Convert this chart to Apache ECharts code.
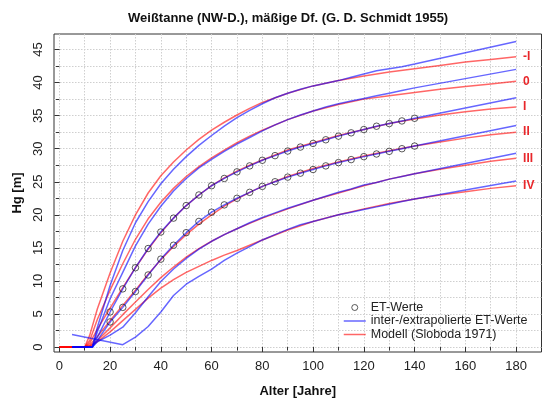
<!DOCTYPE html>
<html><head><meta charset="utf-8">
<script src="https://cdn.jsdelivr.net/npm/echarts@6/dist/echarts.min.js"></script>
<style>html,body{margin:0;padding:0;background:#fff}#c{width:543px;height:403px}</style>
</head><body><div id="c"></div>
<script>
// ---- data ----
const classLabels = ['-I', '0', 'I', 'II', 'III', 'IV'];

// ET-Werte (yield table values) for classes I and II
const etAges = [20,25,30,35,40,45,50,55,60,65,70,75,80,85,90,95,100,105,110,115,120,125,130,135,140];
const etI  = [5.3,8.8,12.0,14.9,17.4,19.5,21.4,23.0,24.4,25.5,26.5,27.4,28.25,28.95,29.65,30.25,30.8,31.35,31.9,32.4,32.9,33.4,33.8,34.2,34.6];
const etII = [3.8,6.0,8.4,10.9,13.3,15.4,17.3,19.0,20.4,21.5,22.5,23.4,24.3,25.0,25.7,26.3,26.85,27.4,27.9,28.35,28.8,29.2,29.6,30.0,30.4];

// inter-/extrapolated ET values (blue)
const blueAges = [5,13,15,20,25,30,35,40,45,50,55,60,65,70,75,80,85,90,95,100,105,110,115,120,125,130,135,140,180];
const blueMinusI = [0,0,3.0,9.3,14.6,18.8,22.0,24.7,26.9,28.8,30.5,32.0,33.4,34.7,35.8,36.8,37.7,38.4,39.0,39.5,39.9,40.3,40.8,41.3,41.8,42.1,42.4,42.8,46.2];
const blue0      = [0,0,2.3,7.3,11.3,15.3,18.6,21.3,23.6,25.5,27.1,28.4,29.6,30.7,31.7,32.7,33.6,34.4,35.1,35.7,36.3,36.8,37.2,37.6,38.0,38.4,38.8,39.2,42.0];
const blueIStart = [0,0,1.5];   const blueIEnd = 37.7;
const blueIIStart = [0,0,1.0];  const blueIIEnd = 33.5;
const blueIII    = [0,0,0.8,1.8,3.0,5.2,7.6,9.9,11.8,13.4,14.8,16.0,17.0,17.9,18.8,19.6,20.3,21.0,21.6,22.2,22.8,23.4,23.9,24.5,24.9,25.4,25.8,26.2,29.3];
const blueIVAges = [5,25,30,35,40,45,50,55,60,65,70,75,80,85,90,95,100,105,110,115,120,125,130,135,140,180];
const blueIV     = [1.9,0.35,1.5,3.1,5.3,7.8,9.5,10.7,11.8,13.1,14.2,15.2,16.2,17.0,17.8,18.5,19.0,19.5,20.0,20.4,20.8,21.2,21.6,22.0,22.4,25.1];

// model curves (red, Sloboda 1971)
const modelAges = [0,10,12,15,20,25,30,35,40,45,50,55,60,65,70,75,80,90,100,110,120,130,140,150,160,170,180];
const redMinusI = [0,0,1.8,5.8,11.2,16.0,20.0,23.3,25.9,28.0,29.8,31.4,32.8,34.0,35.1,36.1,37.0,38.4,39.5,40.3,41.0,41.6,42.1,42.6,43.1,43.5,43.9];
const red0      = [0,0,1.0,4.2,8.6,12.6,16.3,19.4,21.9,24.0,25.8,27.3,28.6,29.8,30.9,31.9,32.8,34.4,35.7,36.7,37.5,38.0,38.5,39.0,39.4,39.8,40.2];
const redI      = [0,0,0.6,2.7,5.9,9.0,12.0,14.8,17.3,19.5,21.4,23.0,24.4,25.6,26.6,27.5,28.3,29.8,30.9,32.0,32.9,33.8,34.5,35.1,35.6,36.0,36.3];
const redII     = [0,0,0.3,1.6,4.0,6.3,8.6,11.0,13.2,15.2,17.0,18.6,20.0,21.3,22.4,23.4,24.3,25.8,27.0,28.0,28.9,29.7,30.4,31.0,31.6,32.1,32.5];
const redIII    = [0,0,0.15,1.0,2.9,4.9,6.8,8.7,10.5,12.1,13.6,14.9,16.0,17.0,17.9,18.7,19.5,20.9,22.2,23.3,24.4,25.4,26.2,26.9,27.5,28.1,28.55];
const redIV     = [0,0,0.1,0.8,2.3,4.0,5.7,7.4,8.9,10.2,11.3,12.2,13.1,13.9,14.6,15.4,16.2,17.7,19.0,20.0,20.9,21.7,22.4,23.0,23.5,24.0,24.4];

// ticks
const xMajorTicks = [0,20,40,60,80,100,120,140,160,180];
const xMinorTicks = [0,10,20,30,40,50,60,70,80,90,100,110,120,130,140,150,160,170,180];
const yMajorTicks = [0,5,10,15,20,25,30,35,40,45];
const yMinorTicks = [0,2.5,5,7.5,10,12.5,15,17.5,20,22.5,25,27.5,30,32.5,35,37.5,40,42.5,45];

// ---- build ----
const zip = (xs, ys) => xs.map((x, i) => [x, ys[i]]);
const blueI  = blueIStart.concat(etI, [blueIEnd]);
const blueII = blueIIStart.concat(etII, [blueIIEnd]);

const redSets  = [redMinusI, red0, redI, redII, redIII, redIV];
const blueSets = [zip(blueAges, blueMinusI), zip(blueAges, blue0), zip(blueAges, blueI),
                  zip(blueAges, blueII), zip(blueAges, blueIII), zip(blueIVAges, blueIV)];

const RED = 'rgba(255,0,0,0.6)';
const BLUE = 'rgba(0,0,255,0.6)';
const FONT = 'Liberation Sans';
const circleStyle = { color: 'rgba(0,0,0,0)', borderColor: '#1a1a1a', borderWidth: 0.9 };

const series = [];
series.push({ name: 'ET-Werte', type: 'scatter', data: zip(etAges, etI), symbol: 'circle', symbolSize: 6.5,
  itemStyle: circleStyle, z: 3 });
series.push({ name: 'ET-Werte', type: 'scatter', data: zip(etAges, etII), symbol: 'circle', symbolSize: 6.5,
  itemStyle: circleStyle, z: 3 });
redSets.forEach((vals, i) => {
  series.push({ name: 'Modell (Sloboda 1971)', type: 'line', data: zip(modelAges, vals),
    symbol: 'none', showSymbol: false,
    lineStyle: { color: RED, width: 1.5 }, itemStyle: { color: RED },
    endLabel: { show: true, formatter: classLabels[i], distance: 7, color: '#e8262a',
      fontWeight: 'bold', fontSize: 12, fontFamily: FONT } });
});
blueSets.forEach((d) => {
  series.push({ name: 'inter-/extrapolierte ET-Werte', type: 'line', data: d,
    symbol: 'none', showSymbol: false,
    lineStyle: { color: BLUE, width: 1.5 }, itemStyle: { color: BLUE } });
});

const axisLabelStyle = { fontSize: 13, color: '#222', fontFamily: FONT };
const option = {
  animation: false,
  textStyle: { fontFamily: FONT },
  title: { text: 'Weißtanne (NW-D.), mäßige Df. (G. D. Schmidt 1955)', left: 123, top: 7,
    textStyle: { fontSize: 13, fontWeight: 'bold', color: '#111', fontFamily: FONT } },
  grid: { left: 54, right: 1.5, top: 34, bottom: 49.5, show: true, borderColor: '#333', borderWidth: 1 },
  legend: { left: 338, top: 296, orient: 'vertical', itemWidth: 22, itemHeight: 6, itemGap: 0.5,
    textStyle: { fontSize: 12.5, color: '#222', fontFamily: FONT },
    data: [
      { name: 'ET-Werte', icon: 'circle', itemStyle: { color: 'rgba(0,0,0,0)', borderColor: '#1a1a1a', borderWidth: 0.9 } },
      { name: 'inter-/extrapolierte ET-Werte', itemStyle: { opacity: 0 }, lineStyle: { color: BLUE, width: 1.5 } },
      { name: 'Modell (Sloboda 1971)', itemStyle: { opacity: 0 }, lineStyle: { color: RED, width: 1.5 } }
    ] },
  xAxis: [
    { type: 'value', min: -2.1, max: 190, axisLine: { show: false },
      axisTick: { show: true, length: 5, customValues: xMajorTicks, lineStyle: { color: '#333' } },
      axisLabel: { customValues: xMajorTicks, margin: 8, ...axisLabelStyle },
      splitLine: { show: false },
      name: 'Alter [Jahre]', nameLocation: 'middle', nameGap: 33,
      nameTextStyle: { fontSize: 13, fontWeight: 'bold', color: '#111', fontFamily: FONT } },
    { type: 'value', min: -2.1, max: 190, position: 'bottom', offset: 0, axisLine: { show: false },
      axisTick: { show: true, length: 3.5, customValues: xMinorTicks, lineStyle: { color: '#333' } },
      axisLabel: { show: false },
      splitLine: { show: true, lineStyle: { color: '#cfcfcf', type: [1.5, 1.5], width: 1 } } }
  ],
  yAxis: [
    { type: 'value', min: -0.75, max: 47.35, axisLine: { show: false },
      axisTick: { show: true, length: 5, customValues: yMajorTicks, lineStyle: { color: '#333' } },
      axisLabel: { customValues: yMajorTicks, rotate: 90, margin: 9, ...axisLabelStyle },
      splitLine: { show: false },
      name: 'Hg [m]', nameLocation: 'middle', nameGap: 30, nameRotate: 90,
      nameTextStyle: { fontSize: 13, fontWeight: 'bold', color: '#111', fontFamily: FONT } },
    { type: 'value', min: -0.75, max: 47.35, position: 'left', offset: 0, axisLine: { show: false },
      axisTick: { show: true, length: 3.5, customValues: yMinorTicks, lineStyle: { color: '#333' } },
      axisLabel: { show: false },
      splitLine: { show: true, lineStyle: { color: '#cfcfcf', type: [1.5, 1.5], width: 1 } } }
  ],
  series: series
};
const chart = echarts.init(document.getElementById('c'), null, { renderer: 'canvas' });
chart.setOption(option);
</script></body></html>
